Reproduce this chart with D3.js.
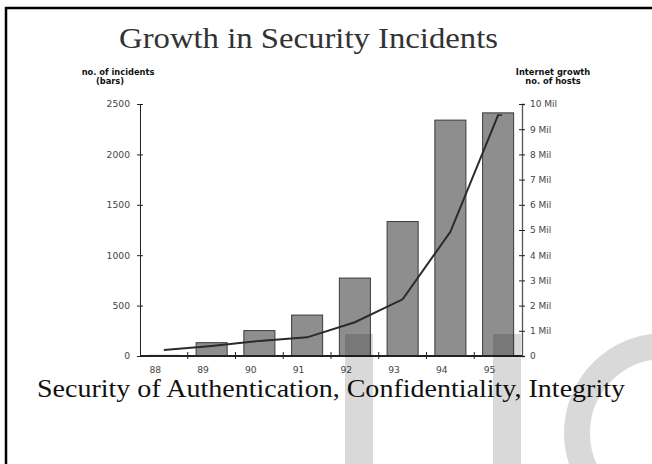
<!DOCTYPE html>
<html><head><meta charset="utf-8">
<script src="https://cdn.jsdelivr.net/npm/d3@7"></script>
<style>body{margin:0;background:#fff}svg{display:block}</style>
</head><body>
<script>
const years = ["88","89","90","91","92","93","94","95"];
const incidents = [6, 132, 252, 406, 773, 1334, 2340, 2412];
const hostsMil = [0.24, 0.40, 0.60, 0.74, 1.34, 2.25, 4.93, 9.56];
const leftTicks = [0, 500, 1000, 1500, 2000, 2500];
const rightTicks = [0,1,2,3,4,5,6,7,8,9,10];
const rightTickLabels = ["0","1 Mil","2 Mil","3 Mil","4 Mil","5 Mil","6 Mil","7 Mil","8 Mil","9 Mil","10 Mil"];

const W = 652, H = 464;
const svg = d3.select("body").append("svg").attr("width", W).attr("height", H);
svg.append("rect").attr("width", W).attr("height", H).attr("fill", "#fff");

// frame (top and left)
svg.append("line").attr("x1", 5).attr("x2", W).attr("y1", 8).attr("y2", 8).attr("stroke", "#000").attr("stroke-width", 2.5);
svg.append("line").attr("x1", 6).attr("x2", 6).attr("y1", 7).attr("y2", H).attr("stroke", "#000").attr("stroke-width", 2.5);

// title
svg.append("text").attr("x", 119).attr("y", 48).attr("textLength", 379).attr("lengthAdjust", "spacingAndGlyphs")
  .attr("font-family", "Liberation Serif").attr("font-size", 29).attr("fill", "#333")
  .text("Growth in Security Incidents");

const x0 = 140, x1 = 522, y0 = 356, yTop = 104;
const xb = d3.scaleBand().domain(years).range([x0, x1]).paddingInner(0.35).paddingOuter(0.175);
const xs = d3.scaleBand().domain(years).range([x0, x1]).padding(0);
const yL = d3.scaleLinear().domain([0, 2500]).range([y0, yTop]);
const yR = d3.scaleLinear().domain([0, 10]).range([y0, yTop]);

// axis titles
const at = svg.append("g").attr("font-family", "DejaVu Sans").attr("font-weight", "bold").attr("font-size", 8.3).attr("fill", "#111").attr("text-anchor", "middle");
at.append("text").attr("x", 118).attr("y", 75).text("no. of incidents");
at.append("text").attr("x", 110).attr("y", 84).text("(bars)");
at.append("text").attr("x", 553).attr("y", 75).text("Internet growth");
at.append("text").attr("x", 553).attr("y", 84).text("no. of hosts");

// bars
svg.append("g").selectAll("rect").data(years).join("rect")
  .attr("x", d => xb(d)).attr("width", xb.bandwidth())
  .attr("y", (d, i) => yL(incidents[i])).attr("height", (d, i) => y0 - yL(incidents[i]))
  .attr("fill", "#8e8e8e").attr("stroke", "#3a3a3a").attr("stroke-width", 1);

// left axis
const gl = svg.append("g").attr("transform", `translate(${x0},0)`)
  .call(d3.axisLeft(yL).tickValues(leftTicks).tickSize(3).tickPadding(7).tickFormat(d3.format("d")));
gl.select(".domain").attr("stroke", "#222");
gl.selectAll(".tick line").attr("x1", 3).attr("stroke", "#222");
gl.selectAll("text").attr("font-family", "DejaVu Sans").attr("font-size", 9.2).attr("fill", "#444");

// right axis
const gr = svg.append("g").attr("transform", `translate(${x1},0)`)
  .call(d3.axisRight(yR).tickValues(rightTicks).tickSize(3).tickPadding(5).tickFormat((d, i) => rightTickLabels[i]));
gr.select(".domain").attr("stroke", "#555").attr("stroke-width", 1.3);
gr.selectAll(".tick line").attr("x1", -3).attr("stroke", "#222");
gr.selectAll("text").attr("font-family", "DejaVu Sans").attr("font-size", 9).attr("fill", "#444");

// bottom axis
const gb = svg.append("g").attr("transform", `translate(0,${y0})`);
gb.append("line").attr("x1", x0).attr("x2", x1).attr("stroke", "#222").attr("stroke-width", 2);
gb.selectAll("line.t").data(years.slice(1)).join("line").attr("class", "t")
  .attr("x1", d => xs(d)).attr("x2", d => xs(d)).attr("y1", -4).attr("y2", 3).attr("stroke", "#222");
gb.selectAll("text").data(years).join("text")
  .attr("x", d => xs(d) + xs.bandwidth() / 2 - 8.5).attr("y", 17).attr("text-anchor", "middle")
  .attr("font-family", "DejaVu Sans").attr("font-size", 9.2).attr("fill", "#444").text(d => d);

// line
const line = d3.line().x((d, i) => xs(years[i]) + xs.bandwidth() / 2).y(d => yR(d));
svg.append("path").datum(hostsMil).attr("d", line).attr("fill", "none").attr("stroke", "#2a2a2a").attr("stroke-width", 2);
svg.append("line").attr("x1", xs("95") + xs.bandwidth()/2 - 1).attr("x2", xs("95") + xs.bandwidth()/2 + 4)
  .attr("y1", yR(hostsMil[7])).attr("y2", yR(hostsMil[7])).attr("stroke", "#2a2a2a").attr("stroke-width", 1.5);

// subtitle
svg.append("text").attr("x", 37).attr("y", 397).attr("textLength", 588).attr("lengthAdjust", "spacingAndGlyphs")
  .attr("font-family", "Liberation Serif").attr("font-size", 26).attr("fill", "#111")
  .text("Security of Authentication, Confidentiality, Integrity");

// watermark
const wm = svg.append("g").attr("fill", "#000").attr("fill-opacity", 0.15);
wm.append("rect").attr("x", 345).attr("y", 334).attr("width", 28).attr("height", H - 334);
wm.append("rect").attr("x", 493).attr("y", 334).attr("width", 28).attr("height", H - 334);
svg.append("circle").attr("cx", 664).attr("cy", 433).attr("r", 87).attr("fill", "none")
  .attr("stroke", "#000").attr("stroke-opacity", 0.15).attr("stroke-width", 26);
</script>
</body></html>
